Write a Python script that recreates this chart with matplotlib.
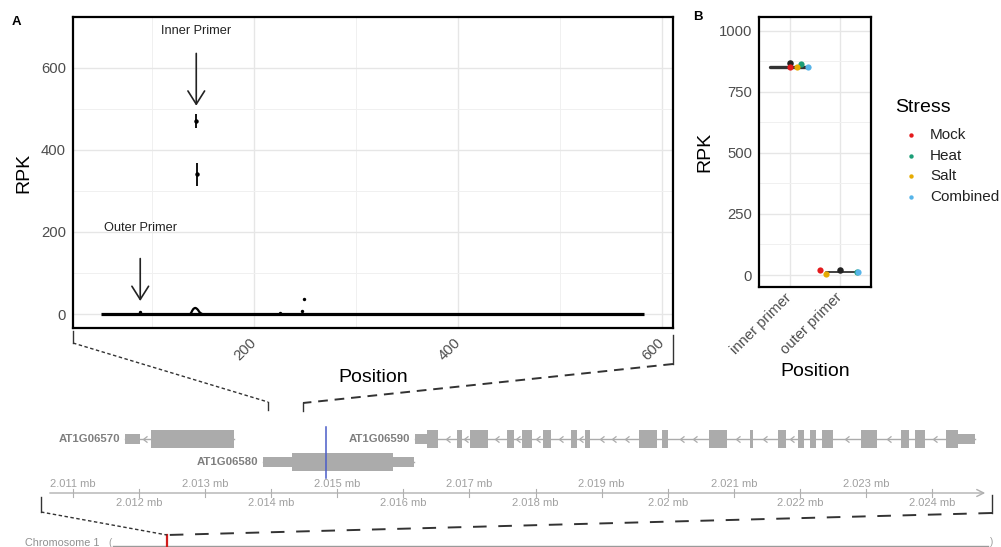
import numpy as np
import matplotlib
matplotlib.use("Agg")
import matplotlib.pyplot as plt
from matplotlib.path import Path
from matplotlib.patches import Rectangle

plt.rcParams['font.family'] = ['Liberation Sans', 'DejaVu Sans']

W, H, DPI = 1001, 547, 100

# ---------------- Panel A: per-position coverage along the amplicon ----------------
coverage_start, coverage_end = 49, 583          # positions covered at ~0 RPK
bump_pos = [137, 138, 139, 140, 141, 142, 143, 144, 145, 146, 147, 148, 149]
bump_rpk = [0, 3, 8, 12, 14, 15, 14, 12, 9, 5, 3, 1, 0]
minor_pos = [88, 225, 247, 249]
minor_rpk = [4, 2, 8, 37]
peak_pos = [143, 144]
peak_rpk = [470, 341]
peak_err = [17, 28]
inner_primer_pos, outer_primer_pos = 143, 88

# ---------------- Panel B: RPK at primer sites per stress ----------------
primer_sites = ["inner primer", "outer primer"]
stress_levels = ["Mock", "Heat", "Salt", "Combined"]
stress_colors = ["#E41A1C", "#1B9E77", "#E6AB02", "#56B4E9"]
inner_rpk = [851, 863, 852, 852]
outer_rpk = [20, 12, 4, 11]
site_mean_rpk = [866, 20]
site_bar_rpk = [852, 12]

# ---------------- Gene models (genomic coordinates, bp) ----------------
gene_names = ["AT1G06570", "AT1G06580", "AT1G06590"]
gene_exons = [
    [(2011787, 2012014, "utr"), (2012180, 2013436, "cds")],
    [(2013875, 2014314, "utr"), (2014314, 2015843, "cds"), (2015843, 2016160, "utr")],
    [(2016175, 2016357, "utr"), (2016357, 2016524, "cds"), (2016811, 2016887, "cds"),
     (2017008, 2017280, "cds"), (2017568, 2017674, "cds"), (2017795, 2017946, "cds"),
     (2018113, 2018234, "cds"), (2018536, 2018627, "cds"), (2018748, 2018824, "cds"),
     (2019565, 2019838, "cds"), (2019914, 2020004, "cds"), (2020625, 2020897, "cds"),
     (2021245, 2021290, "cds"), (2021669, 2021790, "cds"), (2021972, 2022062, "cds"),
     (2022153, 2022244, "cds"), (2022334, 2022501, "cds"), (2022925, 2023167, "cds"),
     (2023530, 2023651, "cds"), (2023742, 2023893, "cds"), (2024211, 2024393, "cds"),
     (2024393, 2024650, "utr")],
]
gene_rows = [439, 462, 439]           # vertical lane (pixel row) of each gene
amplicon_site = 2014829
track_start, track_end = 2010607, 2024847
tick_kb = list(range(2011000, 2024001, 1000))

# ---------------------------------------------------------------------------------
fig = plt.figure(figsize=(W / DPI, H / DPI), dpi=DPI)


def px_axes(x0, y0, x1, y1, **kw):
    return fig.add_axes([x0 / W, 1 - y1 / H, (x1 - x0) / W, (y1 - y0) / H], **kw)


over = px_axes(0, 0, W, H)
over.set_xlim(0, W)
over.set_ylim(H, 0)
over.axis('off')

TICK_COL = "#4D4D4D"
GRID_MAJ = "#E6E6E6"
GRID_MIN = "#F0F0F0"

# ---------------- Panel A ----------------
axA = px_axes(73, 17, 673, 328)
axA.set_xlim(22, 611)
axA.set_ylim(-34, 724)
axA.set_xticks([200, 400, 600])
axA.set_xticks([100, 300, 500], minor=True)
axA.set_yticks([0, 200, 400, 600])
axA.set_yticks([100, 300, 500], minor=True)
axA.grid(True, which='major', color=GRID_MAJ, lw=1.0)
axA.grid(True, which='minor', color=GRID_MIN, lw=0.7)
axA.set_axisbelow(True)
axA.tick_params(which='both', length=0, labelsize=10.7, labelcolor=TICK_COL)
axA.tick_params(axis='y', pad=5)
for lab in axA.get_xticklabels():
    lab.set_rotation(45)
    lab.set_ha('right')
    lab.set_va('center')
    lab.set_rotation_mode('anchor')
axA.tick_params(axis='x', pad=9)
for s in axA.spines.values():
    s.set_linewidth(1.6)
    s.set_color('black')
axA.set_ylabel("RPK", fontsize=14, labelpad=6)
axA.set_xlabel("Position", fontsize=14, labelpad=4)

axA.plot([coverage_start, coverage_end], [0, 0], color='black', lw=2.3,
         solid_capstyle='butt', zorder=3)
axA.plot(bump_pos, bump_rpk, color='black', lw=1.6, zorder=3)
axA.scatter(minor_pos, minor_rpk, s=6, color='black', zorder=4, linewidths=0)
axA.errorbar(peak_pos, peak_rpk, yerr=peak_err, fmt='o', ms=2.2, color='black',
             elinewidth=1.3, capsize=0, zorder=4)

arrow_kw = dict(arrowstyle='->,head_length=0.95,head_width=0.6', lw=1.2, color='#222222')
axA.annotate("", xy=(inner_primer_pos, 501), xytext=(inner_primer_pos, 642),
             arrowprops=arrow_kw)
axA.annotate("", xy=(outer_primer_pos, 25), xytext=(outer_primer_pos, 142),
             arrowprops=arrow_kw)
axA.text(inner_primer_pos, 689, "Inner Primer", ha='center', va='center', fontsize=9.2,
         color='#222222')
axA.text(outer_primer_pos, 210, "Outer Primer", ha='center', va='center', fontsize=9.2,
         color='#222222')

# ---------------- Panel B ----------------
axB = px_axes(759, 17, 871, 287)
axB.set_xlim(0.4, 2.6)
axB.set_ylim(-49, 1056)
axB.set_xticks([1, 2])
axB.set_xticklabels(primer_sites)
axB.set_yticks([0, 250, 500, 750, 1000])
axB.set_yticks([125, 375, 625, 875], minor=True)
axB.grid(True, which='major', color=GRID_MAJ, lw=1.0)
axB.grid(True, axis='y', which='minor', color=GRID_MIN, lw=0.7)
axB.set_axisbelow(True)
axB.tick_params(which='both', length=0, labelsize=10.7, labelcolor=TICK_COL)
axB.tick_params(axis='y', pad=5)
for lab in axB.get_xticklabels():
    lab.set_rotation(45)
    lab.set_ha('right')
    lab.set_va('center')
    lab.set_rotation_mode('anchor')
axB.tick_params(axis='x', pad=6)
for s in axB.spines.values():
    s.set_linewidth(1.6)
    s.set_color('black')
axB.set_ylabel("RPK", fontsize=14, labelpad=4)
axB.set_xlabel("Position", fontsize=14, labelpad=4)

jitter = [[0.0, 0.23, 0.14, 0.36], [-0.40, 0.33, -0.29, 0.35]]
bar_span = [(-0.39, 0.39), (-0.29, 0.35)]
bar_width = [2.4, 1.3]
site_values = [inner_rpk, outer_rpk]
for i, site in enumerate(primer_sites):
    x0 = i + 1
    axB.plot([x0 + bar_span[i][0], x0 + bar_span[i][1]], [site_bar_rpk[i]] * 2,
             color='#333333', lw=bar_width[i], solid_capstyle='round', zorder=3)
    axB.scatter([x0], [site_mean_rpk[i]], s=22, color='#222222', zorder=4, linewidths=0)
    for k, st in enumerate(stress_levels):
        axB.scatter([x0 + jitter[i][k]], [site_values[i][k]], s=20,
                    color=stress_colors[k], zorder=5, linewidths=0)

# legend
over.text(895, 108, "Stress", fontsize=14, ha='left', va='center')
for k, st in enumerate(stress_levels):
    yy = 135 + k * 20.7
    over.scatter([911], [yy], s=10, color=stress_colors[k], linewidths=0)
    over.text(930, yy, st, fontsize=11, ha='left', va='center', color='#222222')

# panel letters
over.text(16, 22, "A", fontsize=9.5, fontweight='bold', ha='center', va='center')
over.text(698, 17, "B", fontsize=9.5, fontweight='bold', ha='center', va='center')

# ---------------- Gene track ----------------
PX_PER_BP = 0.06608
gax = px_axes(0, 395, W, H)
gax.set_xlim(2011000 - 73 / PX_PER_BP, 2011000 + (W - 73) / PX_PER_BP)
gax.set_ylim(H, 395)
gax.axis('off')
gax.patch.set_alpha(0)

EXON_COL = "#ABABAB"
chev = Path([(0.45, 0.7), (-0.45, 0.0), (0.45, -0.7)],
            [Path.MOVETO, Path.LINETO, Path.LINETO])
for name, exons, row in zip(gene_names, gene_exons, gene_rows):
    gstart, gend = exons[0][0], exons[-1][1]
    gax.plot([gstart, gend], [row, row], color=EXON_COL, lw=1.0, zorder=1)
    for (a, b, kind) in exons:
        h = 18 if kind == "cds" else 10
        gax.add_patch(Rectangle((a, row - h / 2), b - a, h, facecolor=EXON_COL,
                                edgecolor='none', zorder=2))
    # strand chevrons inside introns
    for (a1, b1, _), (a2, b2, _) in zip(exons[:-1], exons[1:]):
        L = a2 - b1
        if L < 100:
            continue
        n = max(1, int((L - 60) / 190))
        xs = np.linspace(b1, a2, n + 2)[1:-1]
        gax.plot(xs, [row] * len(xs), ls='none', marker=chev, ms=4.5, mfc='none',
                 mec=EXON_COL, mew=0.9, zorder=2)
    gax.text(gstart - 70, row, name, ha='right', va='center', fontsize=8.2,
             fontweight='bold', color='#7F7F7F')

gax.plot([amplicon_site, amplicon_site], [427, 478], color='#4A5CC8', lw=1.1, zorder=3)

# genomic coordinate axis
AX_Y = 493
gax.annotate("", xy=(track_end, AX_Y), xytext=(track_start, AX_Y),
             arrowprops=dict(arrowstyle='->,head_length=0.5,head_width=0.25',
                             color='#B0B0B0', lw=1.0))
for j, t in enumerate(tick_kb):
    gax.plot([t, t], [489, 497], color='#B0B0B0', lw=0.8)
    ly = 484 if j % 2 == 0 else 503
    gax.text(t, ly, f"{t / 1e6:g} mb", ha='center', va='center', fontsize=8,
             color='#A0A0A0')

# ---------------- Chromosome overview ----------------
CHR_COL = '#9A9A9A'
over.text(25, 543, "Chromosome 1", fontsize=7.8, color='#909090', ha='left', va='center')
over.text(110, 543, "(", fontsize=7, color=CHR_COL, ha='center', va='center')
over.text(992, 542, ")", fontsize=7, color=CHR_COL, ha='center', va='center')
over.plot([113, 988], [546, 546], color=CHR_COL, lw=1.0)
over.plot([167, 167], [535, 548], color='#D01C1C', lw=1.6)

# ---------------- Zoom connectors ----------------
CON = '#333333'
over.plot([73, 73], [331, 343], color=CON, lw=1.0)
over.plot([73, 268], [343, 402], color=CON, lw=1.0, ls=(0, (2.5, 1.8)))
over.plot([268, 268], [402, 410], color=CON, lw=1.0)
over.plot([673, 673], [335, 364], color=CON, lw=1.0)
over.plot([673, 303], [364, 403], color=CON, lw=1.4, ls=(0, (5, 3.5)))
over.plot([303, 303], [403, 411], color=CON, lw=1.0)

over.plot([41, 41], [497, 512], color=CON, lw=1.0)
over.plot([41, 167], [512, 535], color=CON, lw=1.0, ls=(0, (2.5, 1.8)))
over.plot([992, 992], [495, 513], color=CON, lw=1.0)
over.plot([992, 167], [513, 535], color=CON, lw=1.4, ls=(0, (7, 6)))

fig.savefig("out.png", dpi=DPI)
